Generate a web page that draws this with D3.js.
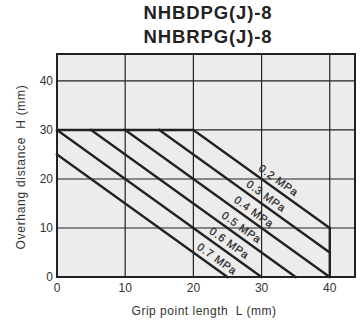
<!DOCTYPE html>
<html><head><meta charset="utf-8">
<script src="https://cdn.jsdelivr.net/npm/d3@7"></script>
<style>body{margin:0;background:#fff}svg{display:block}text{font-family:"Liberation Sans",Arial,sans-serif;white-space:pre}</style>
</head><body><svg id="c" width="362" height="327"></svg>
<script>
const titles = ["NHBDPG(J)-8", "NHBRPG(J)-8"];
const xTicks = [0, 10, 20, 30, 40];
const yTicks = [0, 10, 20, 30, 40];
const pressures = ["0.2 MPa", "0.3 MPa", "0.4 MPa", "0.5 MPa", "0.6 MPa", "0.7 MPa"];
// each line: start point [L,H] and end point [L,H]
const lineStart = [[20, 30], [15, 30], [10, 30], [5, 30], [0, 30], [0, 25]];
const lineEnd = [[40, 10], [40, 5], [40, 0], [35, 0], [30, 0], [25, 0]];
const labelAtL = [29.0, 27.2, 25.4, 23.6, 21.8, 20.0];
const capH = 30, capLStart = 0, capLEnd = 20;
const edgeL = 40, edgeHTop = 10;
const xLabel = "Grip point length  L (mm)";
const yLabel = "Overhang distance  H (mm)";

const svg = d3.select("#c");
const x = d3.scaleLinear().domain([0, 43.7]).range([57, 355]);
const y = d3.scaleLinear().domain([0, 45.5]).range([277, 54]);
const ink = "#222";

svg.append("rect").attr("x", x(0)).attr("y", y(45.5)).attr("width", x(43.7) - x(0)).attr("height", y(0) - y(45.5)).attr("fill", "#ececec");

// grid
svg.append("g").selectAll("line").data(xTicks.filter(d => d > 0)).join("line")
  .attr("x1", d => x(d)).attr("x2", d => x(d)).attr("y1", y(0)).attr("y2", y(45.5))
  .attr("stroke", ink).attr("stroke-width", 1.2);
svg.append("g").selectAll("line").data(yTicks.filter(d => d > 0)).join("line")
  .attr("y1", d => y(d)).attr("y2", d => y(d)).attr("x1", x(0)).attr("x2", x(43.7))
  .attr("stroke", ink).attr("stroke-width", 1.2);

// cap lines
svg.append("line").attr("x1", x(capLStart)).attr("x2", x(capLEnd)).attr("y1", y(capH)).attr("y2", y(capH))
  .attr("stroke", ink).attr("stroke-width", 2.4);
svg.append("line").attr("x1", x(edgeL)).attr("x2", x(edgeL)).attr("y1", y(0)).attr("y2", y(edgeHTop))
  .attr("stroke", ink).attr("stroke-width", 2.4);

svg.append("g").selectAll("line").data(lineStart).join("line")
  .attr("x1", d => x(d[0])).attr("y1", d => y(d[1]))
  .attr("x2", (d, i) => x(lineEnd[i][0])).attr("y2", (d, i) => y(lineEnd[i][1]))
  .attr("stroke", ink).attr("stroke-width", 2.4).attr("stroke-linecap", "square");

// border
svg.append("rect").attr("x", x(0)).attr("y", y(45.5)).attr("width", x(43.7) - x(0)).attr("height", y(0) - y(45.5))
  .attr("fill", "none").attr("stroke", ink).attr("stroke-width", 2);

// labels along lines
pressures.forEach((p, i) => {
  const [l0, h0] = lineStart[i], [l1, h1] = lineEnd[i];
  const L = labelAtL[i];
  const H = h0 + (h1 - h0) * (L - l0) / (l1 - l0);
  const ang = Math.atan2(y(h1) - y(h0), x(l1) - x(l0)) * 180 / Math.PI;
  svg.append("text").attr("transform", `translate(${x(L)},${y(H)}) rotate(${ang})`)
    .attr("dy", -5).attr("font-size", 11).attr("letter-spacing", 0.7).attr("fill", "#2a2a2a")
    .attr("stroke", "#2a2a2a").attr("stroke-width", 0.25).text(p);
});

// ticks
svg.append("g").selectAll("text").data(xTicks).join("text")
  .attr("x", d => x(d)).attr("y", 292).attr("text-anchor", "middle")
  .attr("font-size", 12).attr("fill", "#333").text(d => d);
svg.append("g").selectAll("text").data(yTicks).join("text")
  .attr("x", 53).attr("y", d => y(d) + 4).attr("text-anchor", "end")
  .attr("font-size", 12).attr("fill", "#333").text(d => d);

svg.append("text").attr("x", 204).attr("y", 315).attr("text-anchor", "middle")
  .attr("font-size", 12).attr("letter-spacing", 0.5).attr("fill", "#333").text(xLabel);
svg.append("text").attr("transform", "translate(25,167) rotate(-90)").attr("text-anchor", "middle")
  .attr("font-size", 12).attr("letter-spacing", 0.7).attr("fill", "#333").text(yLabel);

svg.append("g").selectAll("text").data(titles).join("text")
  .attr("x", 208).attr("y", (d, i) => 18.5 + i * 24).attr("text-anchor", "middle")
  .attr("font-size", 18.5).attr("font-weight", "bold").attr("letter-spacing", 0.9).attr("fill", "#222").text(d => d);
</script></body></html>
